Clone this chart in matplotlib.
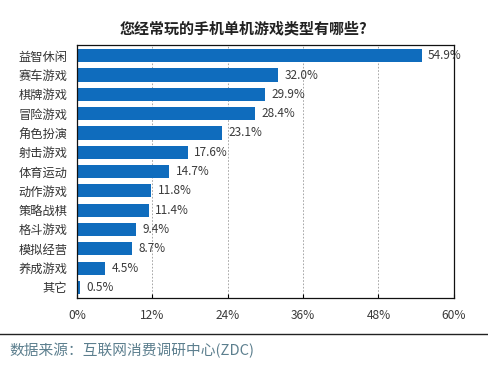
import matplotlib
matplotlib.use("Agg")
import matplotlib.pyplot as plt
from matplotlib.lines import Line2D

plt.rcParams["font.family"] = ["Noto Sans CJK SC", "DejaVu Sans"]

categories = ["益智休闲", "赛车游戏", "棋牌游戏", "冒险游戏", "角色扮演", "射击游戏",
              "体育运动", "动作游戏", "策略战棋", "格斗游戏", "模拟经营", "养成游戏", "其它"]
values = [54.9, 32.0, 29.9, 28.4, 23.1, 17.6, 14.7, 11.8, 11.4, 9.4, 8.7, 4.5, 0.5]
ticks = [0, 12, 24, 36, 48, 60]

BAR = "#0F6CBD"

fig = plt.figure(figsize=(4.88, 3.67), dpi=100)
ax = fig.add_axes([0.158, 0.188, 0.772, 0.689])

y = list(range(len(categories)))
ax.barh(y, values, height=0.68, color=BAR, zorder=2)
for yi, v in zip(y, values):
    ax.text(v + 1.0, yi, f"{v:.1f}%", va="center", ha="left", fontsize=8.5, color="#3a3a3a")

ax.set_ylim(len(categories) - 0.45, -0.55)
ax.set_xlim(0, 60)
ax.set_yticks(y)
ax.set_yticklabels(categories, fontsize=8.8, color="#333333")
ax.set_xticks(ticks)
ax.set_xticklabels([f"{t}%" for t in ticks], fontsize=8.6, color="#3a3a3a")
ax.tick_params(axis="y", length=0, pad=7)
ax.tick_params(axis="x", direction="in", length=3, pad=8)
ax.grid(axis="x", linestyle=(0, (2, 2)), color="#999999", linewidth=0.6, zorder=0)
for s in ax.spines.values():
    s.set_linewidth(0.9)
    s.set_color("#111111")

fig.text(0.5, 0.923, "您经常玩的手机单机游戏类型有哪些?", ha="center", va="center",
         fontsize=10.8, fontweight="bold", color="#222222")

fig.add_artist(Line2D([0, 1], [1 - 334 / 367] * 2, transform=fig.transFigure,
                      color="#222222", linewidth=1.0))
fig.text(0.02, 1 - 351 / 367, "数据来源：互联网消费调研中心(ZDC)", ha="left", va="center",
         fontsize=10.6, color="#5C7F8E")

fig.savefig("out.png", dpi=100)
